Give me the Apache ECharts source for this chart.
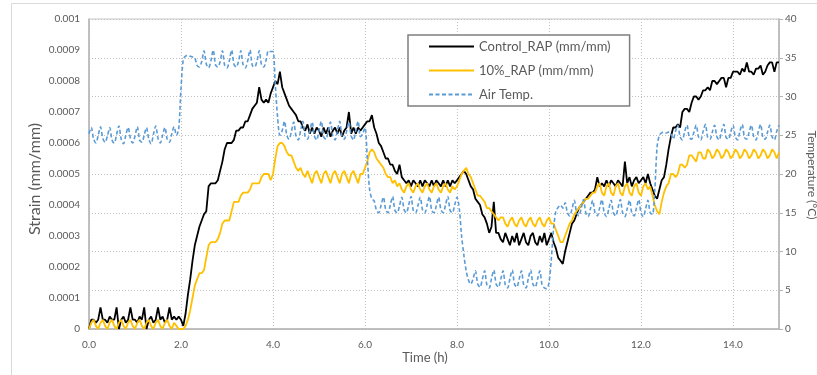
<!DOCTYPE html>
<html>
<head>
<meta charset="utf-8">
<script src="https://cdn.jsdelivr.net/npm/echarts@6/dist/echarts.min.js"></script>
<style>
  html, body { margin: 0; padding: 0; background: #fff; }
  #chartBox { width: 817px; height: 375px; }
</style>
</head>
<body>
<div id="chartBox"></div>
<script>
// sampling interval of the logger readings (h)
const STEP = 0.05;
const xTicks = [0, 2, 4, 6, 8, 10, 12, 14];

// Control_RAP strain (mm/mm), one value per STEP from 0 h to 15 h
const controlRap = [
  0, 0.00003, 0.00003, 0.00002, 0.00003, 0.00007, 0.00003, 0.00003, 0.00002, 0.00004,
  0.00003, 0.00003, 0.00007, 0, 0.00003, 0.00004, 0.00002, 0.00003, 0.00007, 0.00003,
  0.00003, 0.00002, 0.00004, 0.00003, 0.00007, 0, 0.00003, 0.00004, 0.00002, 0.00003,
  0.00007, 0.00003, 0.00004, 0.00002, 0.00003, 0.00007, 0.00003, 0.00004, 0.00003, 0.00004,
  0.00003, 0.00001, 0.00005, 0.00011, 0.00016, 0.00022, 0.00027, 0.00030, 0.00033, 0.00035,
  0.00037, 0.00038, 0.00046, 0.00047, 0.00047, 0.00047, 0.00048, 0.00051, 0.00054, 0.00058,
  0.00060, 0.00060, 0.00060, 0.00061, 0.00064, 0.00064, 0.00065, 0.00065, 0.00067, 0.00067,
  0.00069, 0.00071, 0.00072, 0.00073, 0.00078, 0.00074, 0.00073, 0.00074, 0.00073, 0.00076,
  0.00078, 0.00080, 0.00079, 0.00083, 0.00078, 0.00076, 0.00074, 0.00072, 0.00071, 0.00070,
  0.00069, 0.00067, 0.00067, 0.00065, 0.00064, 0.00066, 0.00063, 0.00065, 0.00063, 0.00065,
  0.00064, 0.00062, 0.00065, 0.00063, 0.00065, 0.00062, 0.00064, 0.00065, 0.00063, 0.00065,
  0.00062, 0.00064, 0.00065, 0.00070, 0.00063, 0.00065, 0.00063, 0.00065, 0.00064, 0.00065,
  0.00066, 0.00067, 0.00067, 0.00069, 0.00065, 0.00063, 0.00060, 0.00059, 0.00057, 0.00055,
  0.00055, 0.00053, 0.00053, 0.00051, 0.00050, 0.00053, 0.00049, 0.00048, 0.00047, 0.00048,
  0.00046, 0.00048, 0.00047, 0.00046, 0.00048, 0.00046, 0.00048, 0.00047, 0.00046, 0.00048,
  0.00046, 0.00048, 0.00047, 0.00046, 0.00048, 0.00046, 0.00048, 0.00046, 0.00048, 0.00047,
  0.00048, 0.00049, 0.00050, 0.00051, 0.00050, 0.00048, 0.00046, 0.00045, 0.00042, 0.00041,
  0.00040, 0.00037, 0.00036, 0.00034, 0.00031, 0.00033, 0.00041, 0.00031, 0.00031, 0.00029,
  0.00028, 0.00031, 0.00029, 0.00027, 0.00030, 0.00028, 0.00031, 0.00027, 0.00029, 0.00031,
  0.00028, 0.00027, 0.00030, 0.00031, 0.00028, 0.00027, 0.00030, 0.00028, 0.00031, 0.00027,
  0.00029, 0.00031, 0.00028, 0.00026, 0.00023, 0.00022, 0.00021, 0.00025, 0.00028, 0.00031,
  0.00034, 0.00035, 0.00037, 0.00039, 0.00040, 0.00041, 0.00042, 0.00043, 0.00044, 0.00044,
  0.00045, 0.00049, 0.00046, 0.00047, 0.00046, 0.00048, 0.00046, 0.00048, 0.00047, 0.00046,
  0.00048, 0.00047, 0.00046, 0.00054, 0.00047, 0.00049, 0.00046, 0.00048, 0.00049, 0.00047,
  0.00048, 0.00049, 0.00047, 0.00050, 0.00047, 0.00045, 0.00043, 0.00042, 0.00045, 0.00048,
  0.00049, 0.00053, 0.00058, 0.00062, 0.00065, 0.00065, 0.00066, 0.00065, 0.00070, 0.00071,
  0.00071, 0.00070, 0.00073, 0.00075, 0.00075, 0.00074, 0.00075, 0.00077, 0.00077, 0.00078,
  0.00077, 0.00080, 0.00080, 0.00079, 0.00080, 0.00081, 0.00081, 0.00078, 0.00081, 0.00081,
  0.00083, 0.00083, 0.00083, 0.00082, 0.00084, 0.00083, 0.00086, 0.00083, 0.00083, 0.00082,
  0.00084, 0.00084, 0.00085, 0.00082, 0.00083, 0.00085, 0.00086, 0.00086, 0.00083, 0.00086,
  0.00086
];

// 10%_RAP strain (mm/mm)
const rap10 = [
  0, 0.00002, 0.00003, 0.00001, 0, 0.00002, 0.00003, 0.00001, 0, 0.00002,
  0.00003, 0.00001, 0, 0.00002, 0.00003, 0.00001, 0, 0.00002, 0.00003, 0.00001,
  0, 0.00002, 0.00003, 0.00001, 0, 0.00002, 0.00003, 0.00001, 0, 0.00002,
  0.00003, 0.00001, 0, 0.00002, 0.00003, 0.00001, 0, 0.00002, 0.00001, 0,
  0, 0, 0.00001, 0.00003, 0.00006, 0.00010, 0.00014, 0.00016, 0.00018, 0.00018,
  0.00019, 0.00023, 0.00027, 0.00028, 0.00028, 0.00028, 0.00029, 0.00031, 0.00034, 0.00035,
  0.00035, 0.00035, 0.00038, 0.00041, 0.00041, 0.00041, 0.00043, 0.00044, 0.00044, 0.00044,
  0.00045, 0.00047, 0.00047, 0.00047, 0.00047, 0.00049, 0.00050, 0.00050, 0.00050, 0.00048,
  0.00050, 0.00055, 0.00059, 0.00060, 0.00060, 0.00059, 0.00057, 0.00056, 0.00056, 0.00054,
  0.00052, 0.00051, 0.00052, 0.00050, 0.00049, 0.00051, 0.00049, 0.00047, 0.00050, 0.00051,
  0.00049, 0.00047, 0.00050, 0.00051, 0.00049, 0.00047, 0.00050, 0.00051, 0.00049, 0.00047,
  0.00050, 0.00051, 0.00049, 0.00047, 0.00050, 0.00051, 0.00049, 0.00047, 0.00050, 0.00050,
  0.00052, 0.00054, 0.00057, 0.00058, 0.00057, 0.00055, 0.00054, 0.00053, 0.00052, 0.00050,
  0.00049, 0.00049, 0.00047, 0.00048, 0.00046, 0.00047, 0.00045, 0.00044, 0.00046, 0.00047,
  0.00045, 0.00044, 0.00046, 0.00047, 0.00045, 0.00044, 0.00046, 0.00047, 0.00045, 0.00044,
  0.00046, 0.00047, 0.00045, 0.00044, 0.00046, 0.00047, 0.00045, 0.00044, 0.00046, 0.00045,
  0.00046, 0.00048, 0.00050, 0.00051, 0.00052, 0.00050, 0.00049, 0.00047, 0.00045, 0.00043,
  0.00043, 0.00042, 0.00041, 0.00039, 0.00039, 0.00038, 0.00037, 0.00036, 0.00035, 0.00036,
  0.00036, 0.00034, 0.00033, 0.00035, 0.00036, 0.00034, 0.00033, 0.00035, 0.00036, 0.00034,
  0.00033, 0.00035, 0.00036, 0.00034, 0.00033, 0.00035, 0.00036, 0.00034, 0.00033, 0.00035,
  0.00036, 0.00034, 0.00034, 0.00032, 0.00030, 0.00028, 0.00028, 0.00030, 0.00032, 0.00034,
  0.00035, 0.00037, 0.00038, 0.00039, 0.00040, 0.00041, 0.00042, 0.00042, 0.00043, 0.00044,
  0.00044, 0.00046, 0.00047, 0.00044, 0.00043, 0.00046, 0.00047, 0.00044, 0.00043, 0.00046,
  0.00047, 0.00044, 0.00043, 0.00046, 0.00047, 0.00044, 0.00043, 0.00046, 0.00047, 0.00044,
  0.00043, 0.00046, 0.00047, 0.00045, 0.00046, 0.00043, 0.00040, 0.00038, 0.00037, 0.00041,
  0.00044, 0.00046, 0.00047, 0.00050, 0.00050, 0.00049, 0.00050, 0.00053, 0.00053, 0.00052,
  0.00053, 0.00056, 0.00056, 0.00055, 0.00054, 0.00057, 0.00057, 0.00055, 0.00055, 0.00058,
  0.00057, 0.00055, 0.00056, 0.00058, 0.00057, 0.00055, 0.00056, 0.00058, 0.00057, 0.00055,
  0.00056, 0.00058, 0.00057, 0.00055, 0.00056, 0.00058, 0.00057, 0.00055, 0.00056, 0.00058,
  0.00057, 0.00055, 0.00056, 0.00058, 0.00057, 0.00055, 0.00056, 0.00058, 0.00057, 0.00055,
  0.00057
];

// Air temperature (°C)
const airTemp = [
  25.2, 26.0, 24.5, 24.0, 25.0, 26.1, 24.6, 24.1, 24.9, 26.0,
  24.4, 24.0, 25.1, 26.2, 24.5, 23.9, 25.0, 26.0, 24.6, 24.0,
  24.9, 26.1, 24.4, 24.1, 25.0, 26.0, 24.5, 23.9, 25.1, 26.2,
  24.6, 24.0, 25.0, 26.0, 24.5, 24.1, 25.2, 26.1, 25.0, 25.8,
  31.0, 34.8, 35.2, 35.3, 35.2, 35.1, 35.0, 34.0, 33.8, 34.5,
  35.9, 34.2, 33.7, 34.6, 36.0, 34.1, 33.8, 34.5, 35.9, 34.0,
  33.7, 34.6, 36.0, 34.2, 33.8, 34.5, 35.9, 34.1, 33.7, 34.6,
  36.0, 34.0, 33.8, 34.5, 35.9, 34.1, 33.8, 34.7, 35.9, 35.8,
  35.8, 31.5, 27.3, 25.0, 25.6, 26.8, 25.0, 24.5, 25.5, 26.7,
  24.9, 24.4, 25.6, 26.8, 24.8, 24.5, 25.5, 26.7, 24.9, 24.4,
  25.6, 26.8, 24.8, 24.5, 25.5, 26.7, 24.9, 24.4, 25.6, 26.8,
  24.8, 24.5, 25.5, 26.7, 24.9, 24.4, 25.6, 26.8, 24.8, 25.2,
  26.0, 22.0, 18.0, 16.8, 16.5, 15.3, 15.0, 16.0, 17.0, 15.4,
  15.0, 16.0, 17.1, 15.3, 15.0, 15.9, 17.0, 15.4, 15.0, 16.0,
  17.1, 15.3, 15.0, 15.9, 17.0, 15.4, 15.0, 16.0, 17.1, 15.3,
  15.0, 15.9, 17.0, 15.4, 15.0, 16.0, 17.1, 15.3, 15.0, 16.0,
  17.0, 15.5, 12.0, 9.5, 7.5, 6.3, 5.8, 6.5, 7.5, 5.8,
  5.4, 6.4, 7.5, 5.7, 5.3, 6.5, 7.6, 5.8, 5.4, 6.4,
  7.5, 5.7, 5.3, 6.5, 7.6, 5.8, 5.4, 6.4, 7.5, 5.7,
  5.3, 6.5, 7.6, 5.8, 5.4, 6.4, 7.5, 5.7, 5.3, 5.2,
  6.0, 9.0, 13.0, 15.2, 15.7, 16.0, 15.6, 16.3, 15.0, 14.6,
  15.5, 16.6, 15.0, 14.6, 15.6, 16.7, 15.0, 14.5, 15.5, 16.6,
  15.0, 14.6, 15.6, 16.7, 15.0, 14.5, 15.5, 16.6, 15.0, 14.6,
  15.6, 16.7, 15.0, 14.5, 15.5, 16.6, 15.0, 14.6, 15.6, 16.7,
  15.0, 14.5, 15.5, 16.6, 15.0, 14.8, 18.0, 23.5, 25.0, 25.3,
  25.4, 25.3, 25.4, 25.2, 24.5, 25.5, 26.3, 24.8, 24.4, 25.5,
  26.3, 24.7, 24.5, 25.4, 26.3, 24.8, 24.4, 25.5, 26.4, 24.7,
  24.5, 25.4, 26.3, 24.8, 24.4, 25.5, 26.4, 24.7, 24.5, 25.4,
  26.3, 24.8, 24.4, 25.5, 26.4, 24.7, 24.5, 25.4, 26.3, 24.8,
  24.4, 25.5, 26.4, 24.7, 24.5, 25.4, 26.3, 24.8, 24.4, 25.5,
  26.3
];

const seriesNames = ['Control_RAP (mm/mm)', '10%_RAP (mm/mm)', 'Air Temp.'];

const FONT = 'Lato, "Open Sans", sans-serif';
const TEXT_GREY = '#595959';
const AXIS_GREY = '#b4b4b4';

const toPairs = arr => arr.map((v, i) => [+(i * STEP).toFixed(2), v]);

const myChart = echarts.init(document.getElementById('chartBox'));

const option = {
  animation: false,
  textStyle: { fontFamily: FONT },
  grid: {
    left: 89, right: 38, top: 19, bottom: 46,
    show: true, borderColor: '#c8c8c8', borderWidth: 1
  },
  legend: {
    orient: 'vertical',
    left: 408, top: 35,
    padding: [5, 19, 5, 20],
    itemGap: 11,
    itemWidth: 45, itemHeight: 14,
    backgroundColor: '#fff',
    borderColor: '#7f7f7f', borderWidth: 1.5,
    // hide the marker dot, keep only the line sample
    itemStyle: { opacity: 0, color: 'rgba(0,0,0,0)', borderWidth: 0 },
    textStyle: { fontSize: 13, color: TEXT_GREY, fontFamily: FONT },
    data: seriesNames
  },
  xAxis: {
    type: 'value',
    min: 0, max: 15, interval: 2,
    axisLine: { lineStyle: { color: AXIS_GREY, width: 1.5 } },
    axisTick: { show: false },
    axisLabel: {
      color: TEXT_GREY, fontSize: 10, margin: 11, showMaxLabel: false,
      formatter: v => xTicks.includes(v) ? v.toFixed(1) : ''
    },
    splitLine: { lineStyle: { color: '#bfbfbf', type: [1, 2] } }
  },
  yAxis: [
    {
      type: 'value',
      min: 0, max: 0.001, interval: 0.0001,
      axisLine: { show: true, lineStyle: { color: AXIS_GREY, width: 1.5 } },
      axisTick: { show: false },
      axisLabel: {
        color: TEXT_GREY, fontSize: 10, margin: 9,
        formatter: v => v === 0 ? '0' : String(parseFloat(v.toFixed(4)))
      },
      splitLine: { show: false }
    },
    {
      type: 'value',
      position: 'right',
      min: 0, max: 40, interval: 5,
      axisLine: { show: true, lineStyle: { color: AXIS_GREY, width: 1.5 } },
      axisTick: { show: true, length: 4, lineStyle: { color: AXIS_GREY } },
      axisLabel: { color: TEXT_GREY, fontSize: 10, margin: 6 },
      splitLine: { show: true, lineStyle: { color: '#bfbfbf', type: [1, 2] } }
    }
  ],
  graphic: [
    {
      type: 'rect', silent: true,
      shape: { x: 11.5, y: 3.5, width: 900, height: 500 },
      style: { fill: 'none', stroke: '#d9d9d9', lineWidth: 1 }
    },
    {
      type: 'text', x: 35, y: 179, rotation: Math.PI / 2,
      style: { text: 'Strain (mm/mm)', fill: TEXT_GREY, font: '16px ' + FONT, align: 'center', verticalAlign: 'middle' }
    },
    {
      type: 'text', x: 425, y: 358,
      style: { text: 'Time (h)', fill: TEXT_GREY, font: '13px ' + FONT, align: 'center', verticalAlign: 'middle' }
    },
    {
      type: 'text', x: 812, y: 175, rotation: -Math.PI / 2,
      style: { text: 'Temperature (°C)', fill: TEXT_GREY, font: '12px ' + FONT, align: 'center', verticalAlign: 'middle' }
    }
  ],
  series: [
    {
      name: seriesNames[0], type: 'line', yAxisIndex: 0,
      symbol: 'none', color: '#000000',
      lineStyle: { width: 1.8, color: '#000000' },
      data: toPairs(controlRap)
    },
    {
      name: seriesNames[1], type: 'line', yAxisIndex: 0,
      symbol: 'none', color: '#ffc000',
      lineStyle: { width: 1.8, color: '#ffc000' },
      data: toPairs(rap10)
    },
    {
      name: seriesNames[2], type: 'line', yAxisIndex: 1,
      symbol: 'none', color: '#5b9bd5', smooth: 0.3,
      lineStyle: { width: 1.6, color: '#5b9bd5', type: [4, 2.5] },
      data: toPairs(airTemp)
    }
  ]
};

myChart.setOption(option);
</script>
</body>
</html>
